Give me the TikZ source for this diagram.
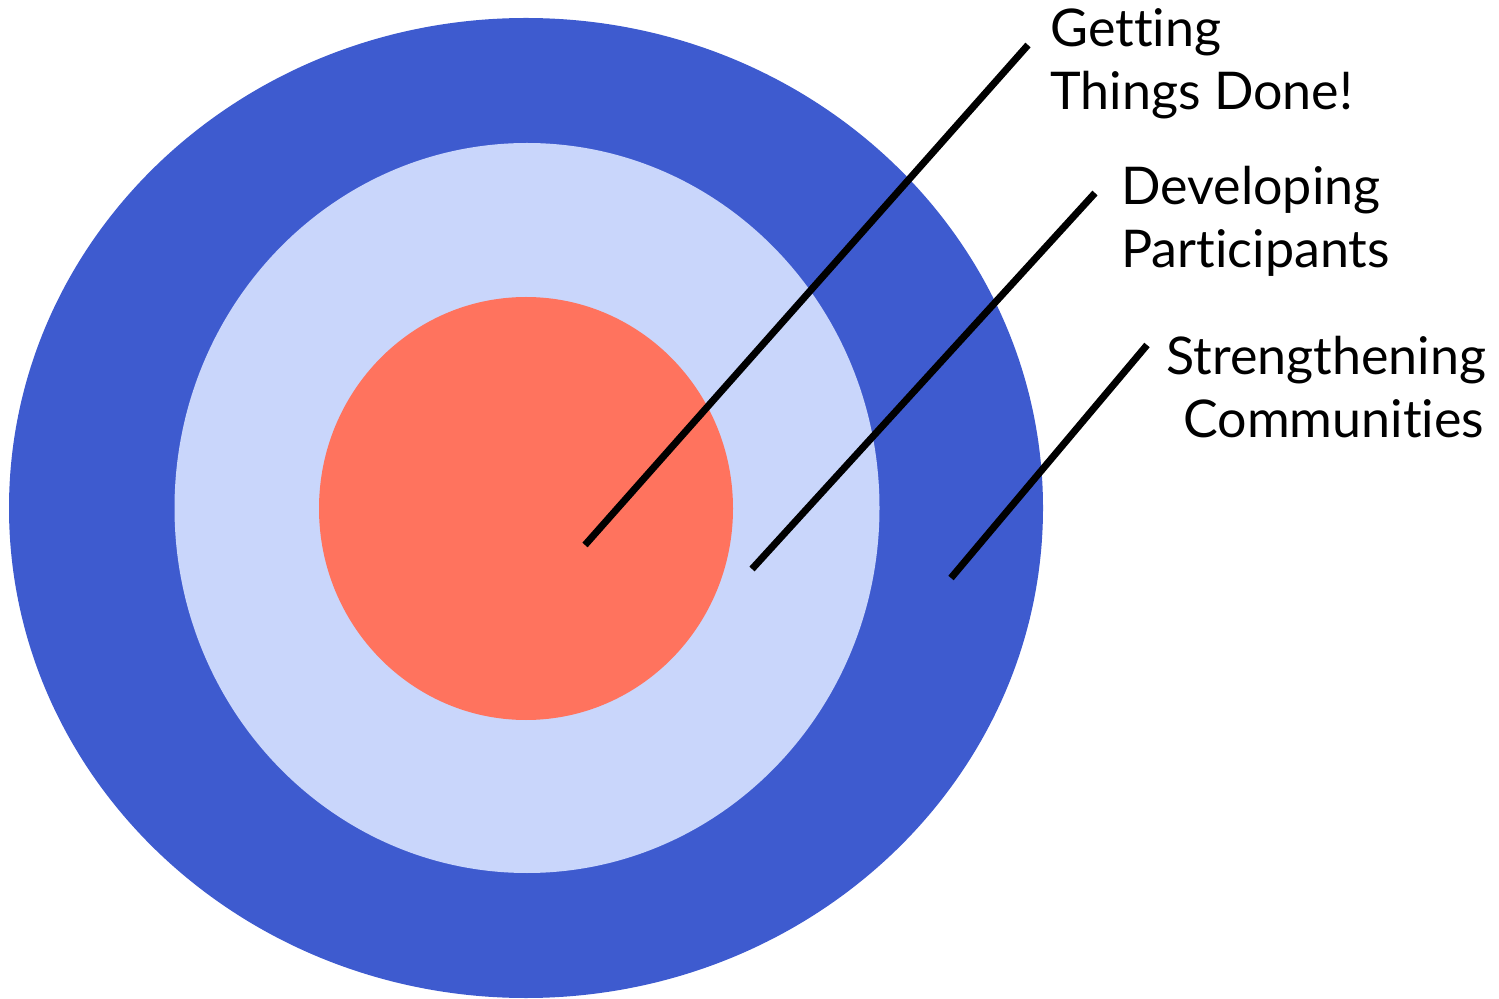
\documentclass[tikz,border=0pt]{standalone}
\usepackage{fontspec}
\setmainfont{Lato}[RawFeature={-liga;-dlig}]
\definecolor{outerblue}{HTML}{3E5BCF}
\definecolor{midblue}{HTML}{C9D6FB}
\definecolor{bullred}{HTML}{FF735E}
\begin{document}
\begin{tikzpicture}[x=0.5pt,y=-0.5pt,
  ring/.style={draw=none},
  leader/.style={line width=3.5pt,black},
  lbl/.style={anchor=base west,inner sep=0pt,align=left,font=\fontsize{26}{31.5}\selectfont}]
\useasboundingbox (0,0) rectangle (1499,999);
\fill[outerblue] (526,508) ellipse [x radius=517,y radius=490];
\fill[midblue] (527,508) ellipse [x radius=352.5,y radius=365];
\fill[bullred] (526,508.5) ellipse [x radius=207,y radius=211.5];
\coordinate (a1) at (585,545);
\coordinate (a2) at (1028,45);
\coordinate (b1) at (752,569);
\coordinate (b2) at (1095,193);
\coordinate (c1) at (951,578);
\coordinate (c2) at (1147,345);
\draw[leader] (a1) -- (a2);
\draw[leader] (b1) -- (b2);
\draw[leader] (c1) -- (c2);
\node[lbl] (ta) at (1050,110) {Getting\\Things Done!};
\node[lbl] (tb) at (1121,268) {Developing\\Participants};
\node[lbl] (tc) at (1166,438) {Strengthening\\\hspace*{8.5pt}Communities};
\end{tikzpicture}
\end{document}
